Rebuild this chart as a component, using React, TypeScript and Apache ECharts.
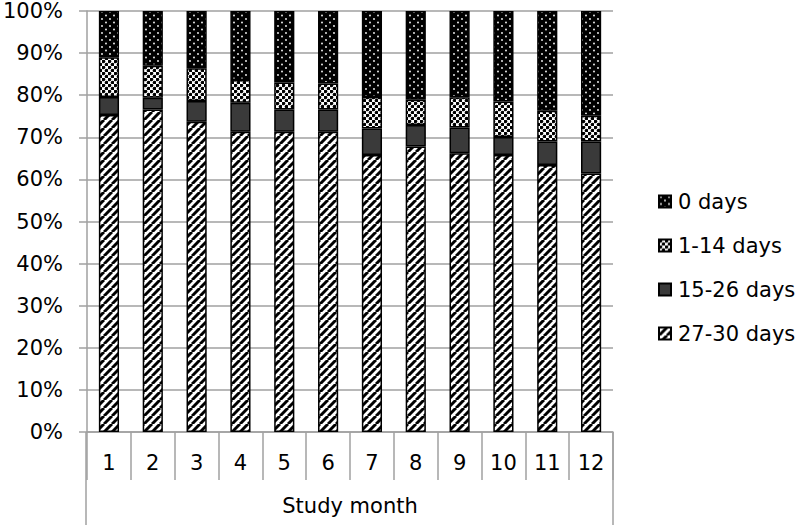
import React, { useEffect, useRef } from "react";
import * as echarts from "echarts";

const months = ["1", "2", "3", "4", "5", "6", "7", "8", "9", "10", "11", "12"];
const days27to30 = [75.3, 76.6, 73.7, 71.3, 71.3, 71.3, 65.8, 67.8, 66.2, 65.8, 63.4, 61.4];
const days15to26 = [4.3, 2.8, 4.9, 6.9, 5.3, 5.3, 6.3, 5.1, 6.1, 4.3, 5.6, 7.6];
const days1to14 = [9.4, 7.6, 7.8, 5.4, 6.4, 6.2, 7.5, 6.0, 7.2, 8.4, 7.3, 6.1];
const days0 = [11.0, 13.0, 13.6, 16.4, 17.0, 17.2, 20.4, 21.1, 20.5, 21.5, 23.7, 24.9];
const seriesNames = ["27-30 days", "15-26 days", "1-14 days", "0 days"];
const legendOrder = ["0 days", "1-14 days", "15-26 days", "27-30 days"];

const FONT = "DejaVu Sans";
const GRID_COLOR = "#a0a0a0";

function makeTile(w: number, h: number, draw: (ctx: CanvasRenderingContext2D) => void) {
  const c = document.createElement("canvas");
  c.width = w;
  c.height = h;
  const ctx = c.getContext("2d") as CanvasRenderingContext2D;
  draw(ctx);
  return { image: c.toDataURL(), repeat: "repeat", imageWidth: w, imageHeight: h };
}

export default function App() {
  const ref = useRef<HTMLDivElement>(null);

  useEffect(() => {
    if (!ref.current) return;
    const chart = echarts.init(ref.current, null, { renderer: "svg" });

    const hatch = makeTile(8, 8, (ctx) => {
      ctx.fillStyle = "#fff";
      ctx.fillRect(0, 0, 8, 8);
      ctx.strokeStyle = "#000";
      ctx.lineWidth = 3;
      for (const o of [-8, 0, 8]) {
        ctx.beginPath();
        ctx.moveTo(o, 8);
        ctx.lineTo(o + 8, 0);
        ctx.stroke();
      }
    });
    const blackDots = makeTile(8, 7, (ctx) => {
      ctx.fillStyle = "#000";
      ctx.fillRect(0, 0, 8, 7);
      ctx.fillStyle = "#fff";
      ctx.beginPath();
      ctx.arc(2, 1.5, 0.9, 0, Math.PI * 2);
      ctx.fill();
      ctx.beginPath();
      ctx.arc(6, 5, 0.9, 0, Math.PI * 2);
      ctx.fill();
    });
    const whiteDots = makeTile(6, 6, (ctx) => {
      ctx.fillStyle = "#fff";
      ctx.fillRect(0, 0, 6, 6);
      ctx.fillStyle = "#000";
      const pts = [
        [1.5, 1.5],
        [4.5, 4.5],
      ];
      for (const [x, y] of pts) {
        ctx.beginPath();
        ctx.arc(x, y, 1.8, 0, Math.PI * 2);
        ctx.fill();
      }
    });

    const colors: any[] = [hatch, "#3a3a3a", whiteDots, blackDots];
    const values = [days27to30, days15to26, days1to14, days0];

    const gridLeft = 86;
    const gridRight = 187;
    const gridTop = 11;
    const gridBottom = 93;
    const baseY = 525 - gridBottom;

    chart.setOption({
      animation: false,
      textStyle: { fontFamily: FONT },
      grid: { left: gridLeft, right: gridRight, top: gridTop, bottom: gridBottom, containLabel: false },
      legend: {
        orient: "vertical",
        left: 653,
        top: 186,
        itemWidth: 12,
        itemHeight: 12,
        itemGap: 23,
        icon: "rect",
        data: legendOrder,
        textStyle: { fontSize: 21, color: "#000", fontFamily: FONT, lineHeight: 21, padding: [0, 0, 0, 2] },
      },
      xAxis: {
        type: "category",
        data: months,
        boundaryGap: true,
        axisLine: { show: true, lineStyle: { color: GRID_COLOR, width: 1.5 } },
        axisTick: { show: true, interval: 0, length: 48, lineStyle: { color: GRID_COLOR, width: 1.5 } },
        axisLabel: { fontSize: 21, color: "#000", margin: 20, fontFamily: FONT, interval: 0 },
        name: "Study month",
        nameLocation: "middle",
        nameGap: 63,
        nameTextStyle: { fontSize: 21, color: "#000", fontFamily: FONT },
      },
      yAxis: {
        type: "value",
        min: 0,
        max: 100,
        interval: 10,
        axisLine: { show: true, lineStyle: { color: GRID_COLOR, width: 1.5 } },
        axisTick: { show: true, length: 8, lineStyle: { color: GRID_COLOR, width: 1.5 } },
        axisLabel: { fontSize: 21, color: "#000", margin: 24, formatter: "{value}%", fontFamily: FONT },
        splitLine: { show: true, lineStyle: { color: GRID_COLOR, width: 1.5 } },
      },
      series: seriesNames.map((name, i) => ({
        name,
        type: "bar",
        stack: "total",
        barWidth: "46%",
        data: values[i],
        itemStyle: { color: colors[i], borderColor: "#000", borderWidth: 1.5 },
      })),
      graphic: [
        {
          type: "line",
          shape: { x1: gridLeft, y1: baseY, x2: gridLeft, y2: 525 },
          style: { stroke: GRID_COLOR, lineWidth: 1.5 },
        },
        {
          type: "line",
          shape: { x1: 800 - gridRight, y1: baseY, x2: 800 - gridRight, y2: 525 },
          style: { stroke: GRID_COLOR, lineWidth: 1.5 },
        },
      ],
    });

    return () => chart.dispose();
  }, []);

  return <div ref={ref} style={{ width: 800, height: 525, position: "absolute", left: 0, top: 0 }} />;
}
